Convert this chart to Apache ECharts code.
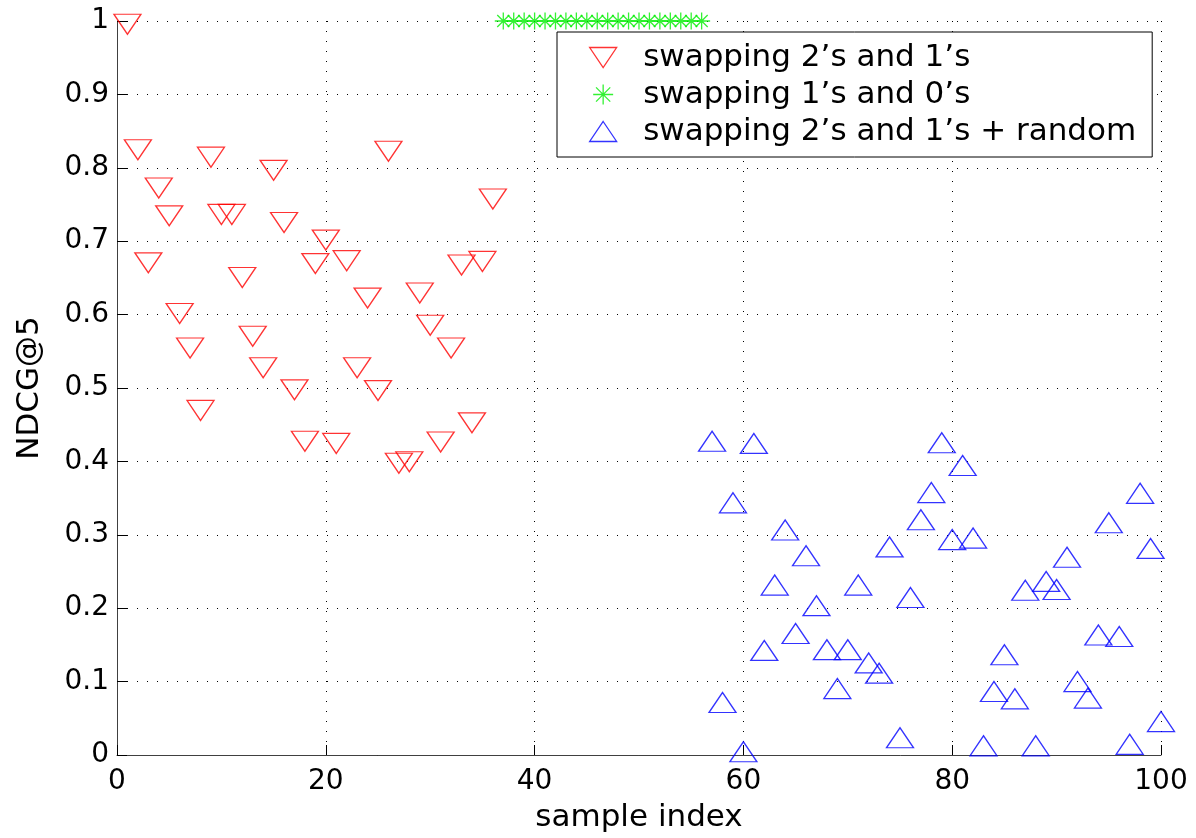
<!DOCTYPE html>
<html>
<head>
<meta charset="utf-8">
<title>NDCG@5 by sample index</title>
<script src="https://cdn.jsdelivr.net/npm/echarts@6/dist/echarts.min.js"></script>
<style>
  html, body { margin: 0; padding: 0; background: #fff; }
  #chart { width: 1196px; height: 838px; }
</style>
</head>
<body>
<div id="chart"></div>
<script>
// sample index and NDCG@5 for each of the three runs
const redIdx = [1, 2, 3, 4, 5, 6, 7, 8, 9, 10, 11, 12, 13, 14, 15, 16, 17, 18,
  19, 20, 21, 22, 23, 24, 25, 26, 27, 28, 29, 30, 31, 32, 33, 34, 35, 36]
const redVal = [1.0, 0.829, 0.675, 0.777, 0.739, 0.606, 0.559, 0.474, 0.819, 0.741,
  0.741, 0.655, 0.575, 0.532, 0.801, 0.730, 0.502, 0.432, 0.674, 0.706, 0.429,
  0.678, 0.532, 0.627, 0.501, 0.827, 0.402, 0.404, 0.634, 0.590, 0.431, 0.559,
  0.672, 0.457, 0.677, 0.762]

const greenIdx = [37, 38, 39, 40, 41, 42, 43, 44, 45, 46, 47, 48, 49, 50, 51, 52, 53, 54, 55, 56]
const greenVal = [1, 1, 1, 1, 1, 1, 1, 1, 1, 1, 1, 1, 1, 1, 1, 1, 1, 1, 1, 1]

const blueIdx = [57, 58, 59, 60, 61, 62, 63, 64, 65, 66, 67, 68, 69, 70, 71, 72, 73, 74,
  75, 76, 77, 78, 79, 80, 81, 82, 83, 84, 85, 86, 87, 88, 89, 90, 91, 92, 93, 94,
  95, 96, 97, 98, 99, 100]
const blueVal = [0.423, 0.067, 0.339, 0.0, 0.420, 0.138, 0.227, 0.302, 0.161, 0.267,
  0.199, 0.139, 0.086, 0.139, 0.227, 0.121, 0.107, 0.279, 0.019, 0.210, 0.316,
  0.353, 0.421, 0.289, 0.390, 0.291, 0.008, 0.082, 0.132, 0.072, 0.220, 0.008,
  0.232, 0.221, 0.265, 0.0955, 0.073, 0.159, 0.312, 0.157, 0.010, 0.352, 0.277, 0.041]

const seriesNames = ['swapping 2\u2019s and 1\u2019s', 'swapping 1\u2019s and 0\u2019s', 'swapping 2\u2019s and 1\u2019s + random']
const xTicks = [0, 20, 40, 60, 80, 100]
const yTicks = [0, 0.1, 0.2, 0.3, 0.4, 0.5, 0.6, 0.7, 0.8, 0.9, 1]

const FONT = 'DejaVu Sans'
const pairs = (xs, ys) => xs.map((x, i) => [x, ys[i]])

// marker shapes: triangles are placed by their centroid (like matlab)
const triDown = 'path://M0,0L27,0L13.5,20Z'
const triUp = 'path://M13.5,0L27,20L0,20Z'
const star = 'path://M0,-1L0,1M-1,0L1,0M-0.71,-0.71L0.71,0.71M-0.71,0.71L0.71,-0.71'

const gridDots = { show: true, lineStyle: { color: '#000', width: 1, type: [1, 9] } }

const chart = echarts.init(document.getElementById('chart'))
chart.setOption({
  animation: false,
  backgroundColor: '#fff',
  grid: { left: 117, right: 35, top: 21, bottom: 77, containLabel: false },
  legend: {
    orient: 'vertical',
    left: 557,
    top: 32,
    padding: [10, 16, 10, 32],
    itemWidth: 70,
    itemHeight: 20,
    itemGap: 6,
    backgroundColor: '#fff',
    borderColor: '#000',
    borderWidth: 1,
    borderRadius: 0,
    itemStyle: { borderWidth: 1.3 },
    textStyle: { fontFamily: FONT, fontSize: 31, lineHeight: 30, color: '#000' },
    data: seriesNames
  },
  xAxis: {
    type: 'value',
    min: xTicks[0],
    max: xTicks[xTicks.length - 1],
    interval: 20,
    name: 'sample index',
    nameLocation: 'middle',
    nameGap: 47,
    nameTextStyle: { fontFamily: FONT, fontSize: 31, color: '#000' },
    axisLine: { onZero: false, lineStyle: { color: '#404040', width: 1 } },
    axisTick: { inside: true, length: 10, lineStyle: { color: '#000' } },
    axisLabel: { fontFamily: FONT, fontSize: 28, color: '#000', margin: 13 },
    splitLine: gridDots
  },
  yAxis: {
    type: 'value',
    min: yTicks[0],
    max: yTicks[yTicks.length - 1],
    interval: 0.1,
    name: 'NDCG@5',
    nameLocation: 'middle',
    nameGap: 72,
    nameTextStyle: { fontFamily: FONT, fontSize: 31, color: '#000' },
    axisLine: { show: true, lineStyle: { color: '#404040', width: 1 } },
    axisTick: { show: true, inside: true, length: 10, lineStyle: { color: '#000' } },
    axisLabel: { fontFamily: FONT, fontSize: 28, color: '#000', margin: 8 },
    splitLine: gridDots
  },
  series: [
    {
      name: seriesNames[0],
      type: 'scatter',
      clip: false,
      symbol: triDown,
      symbolSize: [27, 20],
      symbolOffset: [0, 3.3],
      itemStyle: { color: 'rgba(0,0,0,0)', borderColor: '#ff0000', borderWidth: 1.3 },
      data: pairs(redIdx, redVal)
    },
    {
      name: seriesNames[1],
      type: 'scatter',
      clip: false,
      symbol: star,
      symbolSize: [17, 17],
      itemStyle: { color: 'rgba(0,0,0,0)', borderColor: '#00ee00', borderWidth: 1.3 },
      data: pairs(greenIdx, greenVal)
    },
    {
      name: seriesNames[2],
      type: 'scatter',
      clip: false,
      symbol: triUp,
      symbolSize: [27, 20],
      symbolOffset: [0, -3.3],
      itemStyle: { color: 'rgba(0,0,0,0)', borderColor: '#0000ff', borderWidth: 1.3 },
      data: pairs(blueIdx, blueVal)
    }
  ]
})

window.addEventListener('resize', () => chart.resize())
</script>
</body>
</html>
